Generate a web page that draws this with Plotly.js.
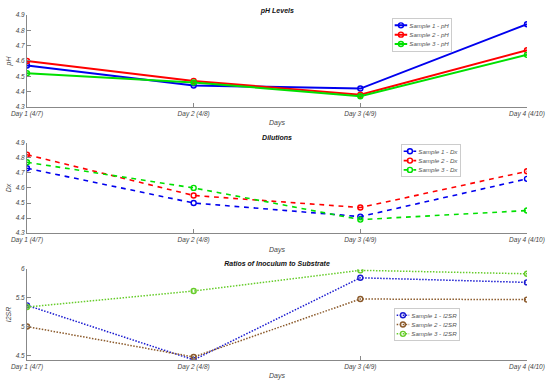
<!DOCTYPE html>
<html>
<head>
<meta charset="utf-8">
<script src="https://cdn.plot.ly/plotly-3.0.1.min.js"></script>
<style>
html,body{margin:0;padding:0;background:#fff;overflow:hidden;}
#wrap{width:550px;height:386px;overflow:hidden;position:relative;}
#chart{position:absolute;left:0;top:0;transform-origin:0 0;}
</style>
</head>
<body>
<div id="wrap"><div id="chart"></div></div>
<script>
// ---- data ----
const days = ["Day 1 (4/7)", "Day 2 (4/8)", "Day 3 (4/9)", "Day 4 (4/10)"];

const ph_s1 = [4.57, 4.44, 4.42, 4.84];
const ph_s2 = [4.60, 4.47, 4.38, 4.67];
const ph_s3 = [4.52, 4.46, 4.37, 4.64];

const dx_s1 = [4.73, 4.50, 4.41, 4.66];
const dx_s2 = [4.82, 4.55, 4.47, 4.71];
const dx_s3 = [4.77, 4.60, 4.39, 4.45];

const i2sr_s1 = [5.37, 4.42, 5.85, 5.77];
const i2sr_s2 = [5.00, 4.47, 5.48, 5.47];
const i2sr_s3 = [5.34, 5.62, 5.98, 5.92];

const phTicks = [4.3, 4.4, 4.5, 4.6, 4.7, 4.8, 4.9];
const i2srTicks = [4.5, 5, 5.5, 6];

// ---- render scale (drawn large, shown at 550x386) ----
const S = 2.4;
const W = 550, H = 386;
document.getElementById("chart").style.transform = "scale(" + (1 / S) + ")";

const FONT = "Liberation Sans, Arial, sans-serif";
const tickFont = {family: FONT, size: 6.5 * S, color: "#444", style: "italic"};
const titleFont = {family: FONT, size: 7 * S, color: "#111", style: "italic", weight: "bold"};
const labFont = {family: FONT, size: 7 * S, color: "#444", style: "italic"};

function tr(y, name, color, dash, width, xa, ya, leg) {
  return {
    x: days, y: y, name: name, type: "scatter", mode: "lines+markers",
    line: {color: color, width: width * S, dash: dash},
    marker: {symbol: "circle-open", size: 5 * S, color: color, line: {width: 1.4 * S, color: color}},
    xaxis: xa, yaxis: ya, legend: leg
  };
}

const traces = [
  tr(ph_s1, "Sample 1 - pH", "#0000ee", "solid", 2, "x", "y", "legend"),
  tr(ph_s2, "Sample 2 - pH", "#ff0000", "solid", 2, "x", "y", "legend"),
  tr(ph_s3, "Sample 3 - pH", "#00e000", "solid", 2, "x", "y", "legend"),
  tr(dx_s1, "Sample 1 - Dx", "#0000ee", "dash", 1.6, "x2", "y2", "legend2"),
  tr(dx_s2, "Sample 2 - Dx", "#ff0000", "dash", 1.6, "x2", "y2", "legend2"),
  tr(dx_s3, "Sample 3 - Dx", "#00e000", "dash", 1.6, "x2", "y2", "legend2"),
  tr(i2sr_s1, "Sample 1 - I2SR", "#1a1ad0", "dot", 1.5, "x3", "y3", "legend3"),
  tr(i2sr_s2, "Sample 2 - I2SR", "#8b5a2b", "dot", 1.5, "x3", "y3", "legend3"),
  tr(i2sr_s3, "Sample 3 - I2SR", "#66cc2a", "dot", 1.5, "x3", "y3", "legend3")
];

const xDom = [27 / W, 527 / W];
function xax(anchor) {
  return {
    domain: xDom, anchor: anchor, type: "category", range: [0, 3],
    showline: true, linecolor: "#888", linewidth: 1 * S, mirror: false,
    ticks: "inside", ticklen: 4 * S, tickwidth: 1 * S, tickcolor: "#888", tickfont: tickFont,
    showgrid: false, zeroline: false, automargin: false,
    title: {text: "Days", font: labFont, standoff: 4 * S}
  };
}
function yax(anchor, dom, range, tickvals, title) {
  return {
    domain: dom, anchor: anchor, range: range, tickvals: tickvals,
    ticktext: tickvals.map(String),
    showline: true, linecolor: "#888", linewidth: 1 * S,
    ticks: "inside", ticklen: 4 * S, tickwidth: 1 * S, tickcolor: "#888", tickfont: tickFont,
    showgrid: false, zeroline: false, automargin: false,
    title: {text: title, font: labFont, standoff: 3 * S}
  };
}
function legendAt(px, py) {
  return {
    x: px / W, y: 1 - py / H, xanchor: "left", yanchor: "top",
    bgcolor: "#ffffff", bordercolor: "#aaaaaa", borderwidth: 0.6 * S,
    font: {family: FONT, size: 6.2 * S, color: "#555", style: "italic"},
    itemwidth: 30, tracegroupgap: 0
  };
}
function panelTitle(text, py) {
  return {text: text, xref: "paper", yref: "paper", x: 277 / W, y: 1 - py / H,
          showarrow: false, font: titleFont, xanchor: "center", yanchor: "middle"};
}

const layout = {
  width: W * S, height: H * S,
  margin: {l: 0, r: 0, t: 0, b: 0},
  paper_bgcolor: "#ffffff", plot_bgcolor: "#ffffff",
  showlegend: true,
  xaxis: xax("y"),
  yaxis: yax("x", [1 - 107 / H, 1 - 15 / H], [4.3, 4.9], phTicks, "pH"),
  xaxis2: xax("y2"),
  yaxis2: yax("x2", [1 - 233.3 / H, 1 - 142.7 / H], [4.3, 4.9], phTicks, "Dx"),
  xaxis3: xax("y3"),
  yaxis3: yax("x3", [1 - 360 / H, 1 - 269.3 / H], [4.42, 6.0], i2srTicks, "I2SR"),
  legend: legendAt(392, 18),
  legend2: legendAt(401, 144),
  legend3: legendAt(394, 308),
  annotations: [
    panelTitle("pH Levels", 11),
    panelTitle("Dilutions", 137.7),
    panelTitle("Ratios of Inoculum to Substrate", 264)
  ]
};

Plotly.newPlot("chart", traces, layout, {displayModeBar: false, staticPlot: true});
</script>
</body>
</html>
